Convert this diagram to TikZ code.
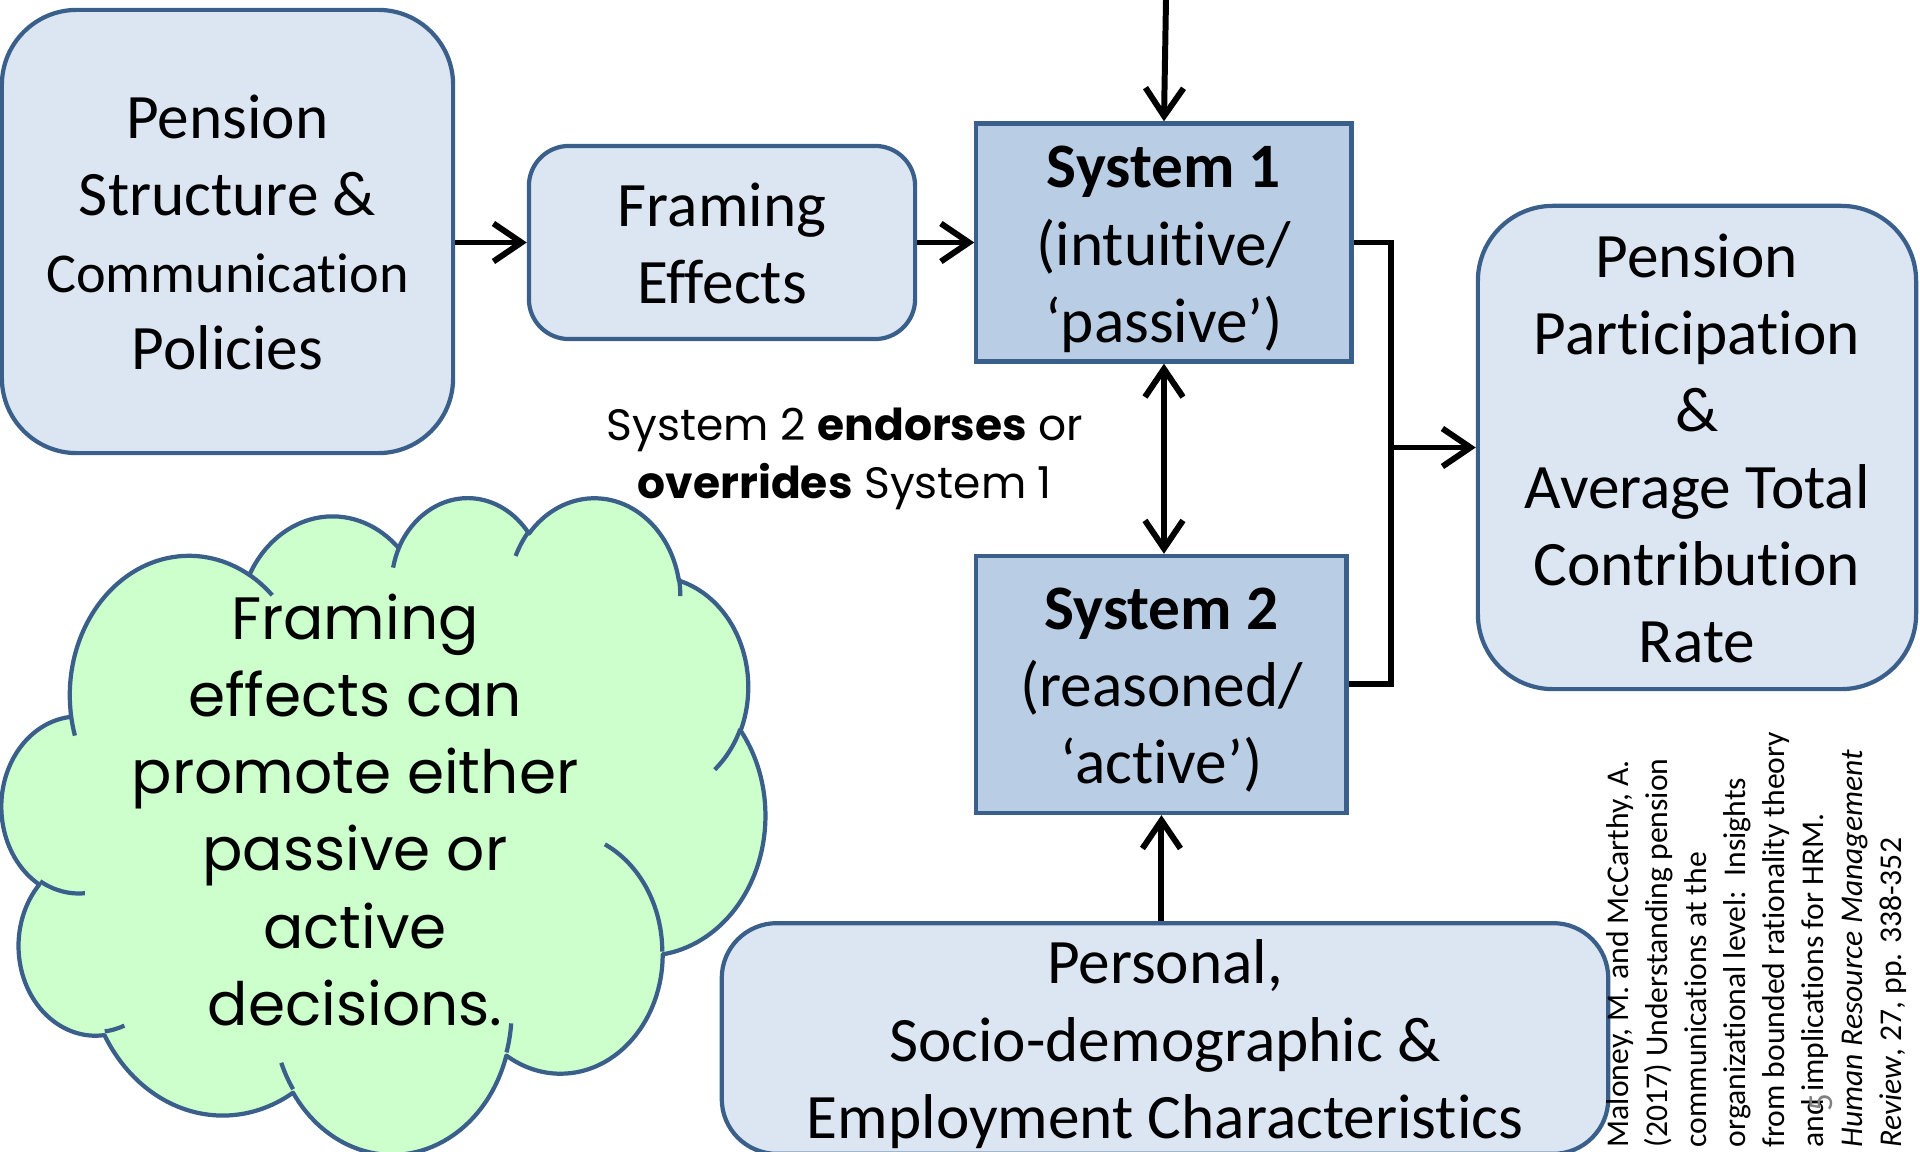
\documentclass[tikz,border=0pt]{standalone}
\usepackage{fontspec}
\setmainfont{Carlito}[RawFeature=-liga]
\newfontfamily\comicfont{Poppins}
\usetikzlibrary{arrows.meta,positioning}
\definecolor{boxline}{HTML}{3A5F8B}
\definecolor{lightfill}{HTML}{DCE6F2}
\definecolor{sysfill}{HTML}{B9CDE5}
\definecolor{cloudfill}{HTML}{CCFFCC}
\newcommand{\linestrut}{\rule[-4.5pt]{0pt}{21.8pt}}
\tikzset{>={Straight Barb[length=2.8mm,width=3.8mm]}}
\tikzset{declare function={ppar(\t,\w,\h)=atan2(sin(\t)/\h,cos(\t)/\w);}}
\tikzstyle{softbox}=[rectangle,draw=boxline,fill=lightfill,line width=1.2pt,align=center,inner sep=0pt,
  execute at end node=\linestrut,font=\fontsize{18}{21.9}\selectfont]
\tikzstyle{sysbox}=[softbox,fill=sysfill]
\tikzstyle{arr}=[->,line width=1.7pt]
\tikzstyle{comic}=[align=center,inner sep=0pt]
\tikzstyle{puffline}=[draw=boxline,line width=1.2pt,line join=round]
% one puff of the cloud: x radius, y radius, start angle, sweep
\newcommand{\puff}[4]{arc[x radius=#1,y radius=#2,start angle={ppar(#3,#1,#2)},
  delta angle={mod(ppar(#3+#4,#1,#2)-ppar(#3,#1,#2)+720,360)}]}

\begin{document}
\begin{tikzpicture}[x=0.01cm,y=-0.01cm]
\useasboundingbox (0,0) rectangle (1920,1152);
\node[softbox,rounded corners=7.5mm,minimum width=4.51cm,minimum height=4.43cm] (policy) at (227.5,231.5)
  {\linestrut Pension\\Structure \&\\{\fontsize{16}{21.9}\selectfont Communication}\\Policies};
\node[softbox,rounded corners=4mm,minimum width=3.86cm,minimum height=1.93cm] (framing) at (722,242.5)
  {\linestrut Framing\\Effects};
\node[sysbox,minimum width=3.75cm,minimum height=2.38cm,right=0.57cm of framing] (sysone)
  {\linestrut\textbf{System 1}\\(intuitive/\\`passive')};
\node[sysbox,minimum width=3.7cm,minimum height=2.57cm,below=1.9cm of sysone.south west,anchor=north west] (systwo)
  {\linestrut\textbf{System 2}\\(reasoned/\\`active')};
\node[softbox,rounded corners=7.5mm,minimum width=4.38cm,minimum height=4.83cm] (outcome) at (1697,447.5)
  {\linestrut Pension\\Participation\\\&\\Average Total\\Contribution\\Rate};
\node[softbox,rounded corners=5.5mm,minimum width=8.86cm,minimum height=2.25cm] (personal) at (1165,1038.5)
  {\linestrut Personal,\\Socio-demographic \&\\Employment Characteristics};
\node[comic,font=\comicfont\fontsize{12.5}{16.5}\selectfont] (verdict) at (845,459)
  {System 2 \textbf{endorses} or\\\textbf{overrides} System 1};
% cloud
\begin{scope}[shift={(2,496)},x=0.017662cm,y=-0.015162cm]
\path[puffline,fill=cloudfill] (39.00,143.70) \puff{67.53}{91.90}{-190.487}{123.781}
  \puff{53.33}{72.67}{-144.102}{89.945} \puff{43.65}{59.45}{-145.808}{99.723}
  \puff{48.57}{65.95}{-130.986}{117.242} \puff{53.33}{72.73}{-78.709}{109.027}
  \puff{67.75}{92.20}{-46.267}{130.269} \puff{57.85}{78.67}{0.625}{114.033}
  \puff{67.52}{92.15}{22.452}{115.173} \puff{77.20}{105.43}{66.243}{75.711}
  \puff{43.60}{59.18}{-274.942}{146.736} \puff{43.45}{59.45}{-246.829}{152.519} -- cycle;
\path[puffline] (46.93,261.77) \puff{43.45}{59.45}{86.742}{26.430}
  (69.28,348.99) \puff{43.60}{59.18}{73.610}{11.447}
  (164.78,390.90) \puff{67.52}{92.15}{137.624}{14.081}
  (288.27,347.51) \puff{67.52}{92.15}{6.453}{15.998}
  (341.29,229.54) \puff{57.85}{78.67}{-70.292}{70.917}
  (417.98,153.54) \puff{53.33}{72.73}{30.318}{27.752}
  (383.24,54.26) \puff{48.57}{65.95}{-13.744}{14.859}
  (290.78,39.52) \puff{48.57}{65.95}{-149.181}{18.195}
  (221.41,47.20) \puff{43.65}{59.45}{-163.494}{17.686}
  (140.00,51.92) \puff{67.53}{91.90}{-66.707}{12.319}
  (41.27,157.89) \puff{67.53}{91.90}{157.654}{11.858};
\end{scope}
\node[comic,font=\comicfont\fontsize{17}{21.9}\selectfont] (moral) at (355,810)
  {Framing\\effects can\\promote either\\passive or\\active\\decisions.};
% reference
\node[rotate=90,anchor=north west,inner sep=0pt,align=left,font=\fontsize{9}{11.1}\selectfont] (cite) at (1606,1148)
  {Maloney, M. and McCarthy, A.\\(2017) Understanding pension\\communications at the\\organizational level:\ \ Insights\\from bounded rationality theory\\and implications for HRM.\\\textit{Human Resource Management}\\\textit{Review}, 27, pp. 338-352};
\node[rotate=90,text=gray,font=\fontsize{10}{11}\selectfont] (slideno) at (1821,1103) {5};
% connectors
\coordinate (feed) at (1166,0);
\coordinate (bus) at (1391,447.5);
\draw[arr] (feed) -- (sysone.north);
\draw[arr] (policy.east |- framing.west) -- (framing.west);
\draw[arr] (framing) -- (sysone);
\draw[arr,<->] (sysone) -- (systwo.north -| sysone.south);
\draw[arr] (systwo.south |- personal.north) -- (systwo.south);
\draw[line width=1.7pt] (sysone.east) -| (bus |- systwo.east) -- (systwo.east);
\draw[arr] (bus) -- (outcome.west);
\end{tikzpicture}
\end{document}
